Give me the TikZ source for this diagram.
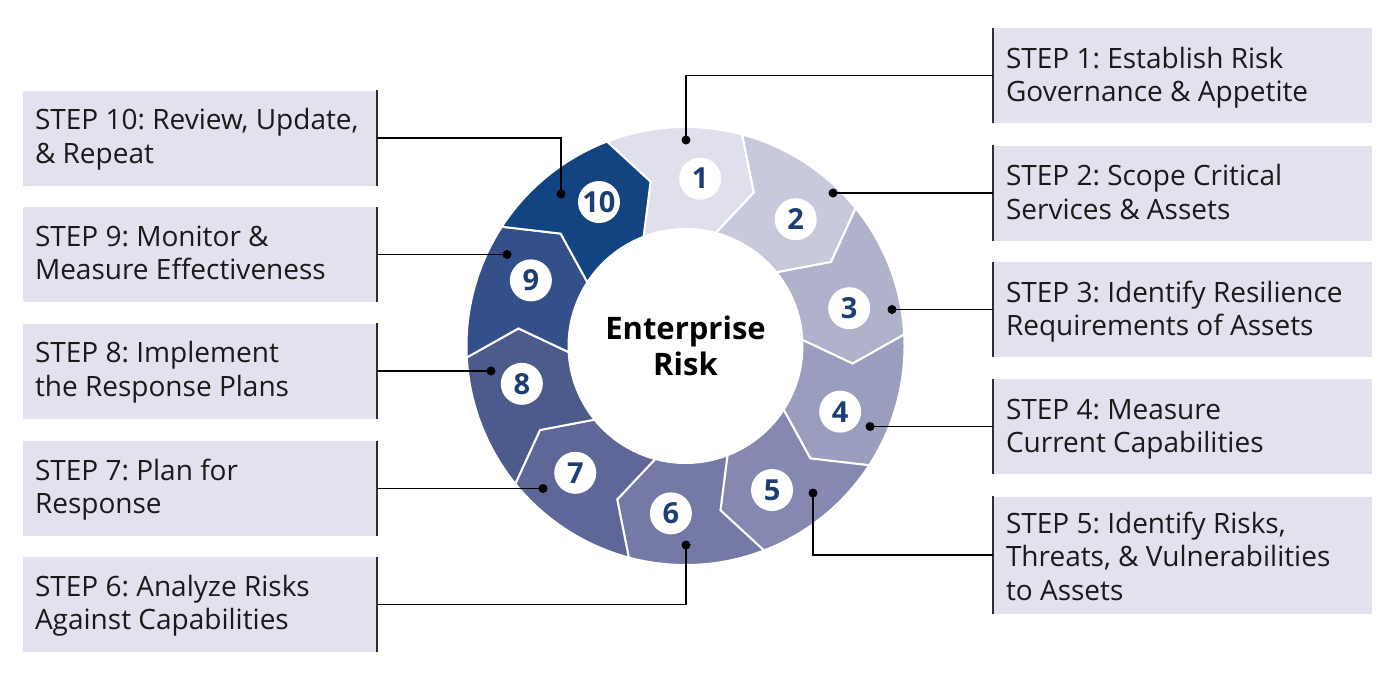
\documentclass[tikz,border=0pt]{standalone}
\usepackage{fontspec}
\setmainfont{Open Sans}
\frenchspacing
\definecolor{boxfill}{HTML}{E2E2EE}
\definecolor{textcol}{HTML}{1A1A1A}
\definecolor{numcol}{HTML}{1B3F73}
\definecolor{edgecol}{HTML}{2E2E2E}
\definecolor{s1}{HTML}{DFE0EC}
\definecolor{s2}{HTML}{C8C9DD}
\definecolor{s3}{HTML}{B0B2CC}
\definecolor{s4}{HTML}{9A9DBE}
\definecolor{s5}{HTML}{8589B1}
\definecolor{s6}{HTML}{7479A5}
\definecolor{s7}{HTML}{5E6798}
\definecolor{s8}{HTML}{4C5A8C}
\definecolor{s9}{HTML}{33508A}
\definecolor{s10}{HTML}{114480}
\begin{document}
\frenchspacing
\begin{tikzpicture}[x=1pt,y=-1pt,
  stepbox/.style={fill=boxfill, inner sep=0pt, minimum height=95},
  rbox/.style={stepbox, minimum width=379},
  lbox/.style={stepbox, minimum width=354},
  steptext/.style={anchor=west, inner sep=0pt, align=left, text=textcol,
    font=\fontsize{28}{33.5}\selectfont},
  edge/.style={draw=edgecol, line width=2},
  conn/.style={draw=black, line width=1.5},
  dotc/.style={fill=black},
  numc/.style={circle, fill=white, minimum size=42, inner sep=0pt, text=numcol,
    font=\fontsize{29}{29}\selectfont\bfseries},
  ctext/.style={circle, fill=white, minimum size=234, inner sep=0pt, align=center,
    font=\fontsize{31}{36}\selectfont\bfseries}
]
\useasboundingbox (0,0) rectangle (1397,673);

% ring segments
\begin{scope}[shift={(685.5,346)}]
\foreach \k/\col in {1/s1,2/s2,3/s3,4/s4,5/s5,6/s6,7/s7,8/s8,9/s9,10/s10}{
  \pgfmathsetmacro\as{36*(\k-1)-111}
  \pgfmathsetmacro\ae{\as+36}
  \pgfmathsetmacro\ts{\as+9}
  \pgfmathsetmacro\te{\ae+9}
  \fill[\col, draw=white, line width=2, line join=miter]
    (\as:219) arc[start angle=\as, end angle=\ae, radius=219]
    -- (\te:168) -- (\ae:117)
    arc[start angle=\ae, end angle=\as, radius=117]
    -- (\ts:168) -- cycle;
}
\foreach \k in {1,...,10}{
  \pgfmathsetmacro\na{36*(\k-1)-85}
  \node[numc] (n\k) at (\na:168) {\k};
}
\end{scope}

\node[ctext] (center) at (685.5,346) {Enterprise\\Risk};

% right boxes
\node[rbox] (b1) at (1182.5,75.5) {};
\node[rbox] (b2) at (1182.5,193) {};
\node[rbox] (b3) at (1182.5,309.5) {};
\node[rbox] (b4) at (1182.5,426.5) {};
\node[rbox, minimum height=117] (b5) at (1182.5,555) {};
% left boxes
\node[lbox] (b10) at (200,138) {};
\node[lbox] (b9) at (200,254.5) {};
\node[lbox] (b8) at (200,371) {};
\node[lbox] (b7) at (200,488.5) {};
\node[lbox] (b6) at (200,604.5) {};

\foreach \b in {b1,b2,b3,b4,b5}{
  \draw[edge] (\b.north west) -- (\b.south west);
}
\foreach \b in {b6,b7,b8,b9,b10}{
  \draw[edge] (\b.north east) -- (\b.south east);
}

\node[steptext] (t1) at ([xshift=13pt,yshift=-3pt]b1.west) {\strut STEP 1: Establish Risk\\Governance \& Appetite\strut};
\node[steptext] (t2) at ([xshift=13pt,yshift=-3pt]b2.west) {\strut STEP 2: Scope Critical\\Services \& Assets\strut};
\node[steptext] (t3) at ([xshift=13pt,yshift=-3pt]b3.west) {\strut STEP 3: Identify Resilience\\Requirements of Assets\strut};
\node[steptext] (t4) at ([xshift=13pt,yshift=-3pt]b4.west) {\strut STEP 4: Measure\\Current Capabilities\strut};
\node[steptext] (t5) at ([xshift=13pt,yshift=-5pt]b5.west) {\strut STEP 5: Identify Risks,\\Threats, \& Vulnerabilities\\to Assets\strut};
\node[steptext] (t10) at ([xshift=12pt,yshift=-2pt]b10.west) {\strut STEP 10: Review, Update,\\\& Repeat\strut};
\node[steptext] (t9) at ([xshift=12pt,yshift=-2pt]b9.west) {\strut STEP 9: Monitor \&\\Measure Effectiveness\strut};
\node[steptext] (t8) at ([xshift=12pt,yshift=-2pt]b8.west) {\strut STEP 8: Implement\\the Response Plans\strut};
\node[steptext] (t7) at ([xshift=12pt,yshift=-2pt]b7.west) {\strut STEP 7: Plan for\\Response\strut};
\node[steptext] (t6) at ([xshift=12pt,yshift=-2pt]b6.west) {\strut STEP 6: Analyze Risks\\Against Capabilities\strut};

% connector end points
\coordinate (d1) at (686,140);
\coordinate (d2) at (833,193);
\coordinate (d3) at (892,309.5);
\coordinate (d4) at (870,426.5);
\coordinate (d5) at (813,493);
\coordinate (d6) at (686,545);
\coordinate (d7) at (543,488.5);
\coordinate (d8) at (491,371);
\coordinate (d9) at (507,254.5);
\coordinate (d10) at (561,194);

\draw[conn] (b1.west) -| (d1);
\draw[conn] (b2.west) -- (d2);
\draw[conn] (b3.west) -- (d3);
\draw[conn] (b4.west) -- (d4);
\draw[conn] (b5.west) -| (d5);
\draw[conn] (b6.east) -| (d6);
\draw[conn] (b7.east) -- (d7);
\draw[conn] (b8.east) -- (d8);
\draw[conn] (b9.east) -- (d9);
\draw[conn] (b10.east) -| (d10);

\foreach \d in {d1,d2,d3,d4,d5,d6,d7,d8,d9,d10}{
  \fill[dotc] (\d) circle[radius=4.5];
}
\end{tikzpicture}
\end{document}
